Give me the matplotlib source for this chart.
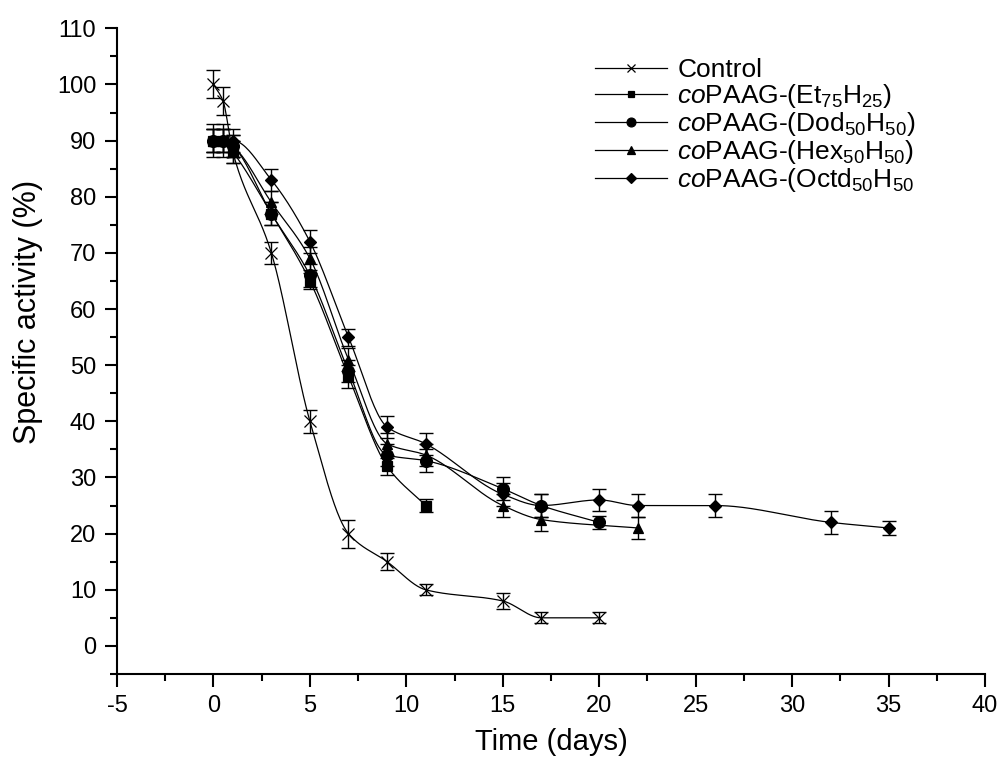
import numpy as np
import matplotlib
matplotlib.use("Agg")
import matplotlib.pyplot as plt
from matplotlib.ticker import MultipleLocator

plt.rcParams['font.family'] = ['Liberation Sans', 'DejaVu Sans']
plt.rcParams['mathtext.fontset'] = 'custom'
plt.rcParams['mathtext.rm'] = 'Liberation Sans'
plt.rcParams['mathtext.it'] = 'Liberation Sans:italic'
plt.rcParams['axes.unicode_minus'] = False

# ---- data ----
ctrl_x = [0, 0.5, 1, 3, 5, 7, 9, 11, 15, 17, 20]
ctrl_y = [100, 97, 88, 70, 40, 20, 15, 10, 8, 5, 5]
ctrl_e = [2.5, 2.5, 2, 2, 2, 2.5, 1.5, 1, 1.5, 1, 1]

et_x = [0, 0.5, 1, 3, 5, 7, 9, 11]
et_y = [90, 90, 88, 77, 65, 48, 32, 25]
et_e = [2, 2, 2, 2, 1.5, 2, 1.5, 1.2]

dod_x = [0, 0.5, 1, 3, 5, 7, 9, 11, 15, 17, 20]
dod_y = [90, 90, 89, 77, 66, 49, 34, 33, 28, 25, 22]
dod_e = [3, 3, 2, 2, 2, 2, 2, 2, 2, 2, 1.2]

hex_x = [0, 0.5, 1, 3, 5, 7, 9, 11, 15, 17, 22]
hex_y = [90, 90, 89, 79, 69, 51, 36, 34, 25, 22.5, 21]
hex_e = [2, 2, 2, 2, 2, 2, 2, 2, 2, 2, 2]

oct_x = [0, 0.5, 1, 3, 5, 7, 9, 11, 15, 17, 20, 22, 26, 32, 35]
oct_y = [90, 90, 90, 83, 72, 55, 39, 36, 27, 25, 26, 25, 25, 22, 21]
oct_e = [2, 2, 2, 2, 2, 1.5, 2, 2, 2, 2, 2, 2, 2, 2, 1.2]

labels = ["Control",
          r"$\it{co}$PAAG-(Et$_{75}$H$_{25}$)",
          r"$\it{co}$PAAG-(Dod$_{50}$H$_{50}$)",
          r"$\it{co}$PAAG-(Hex$_{50}$H$_{50}$)",
          r"$\it{co}$PAAG-(Octd$_{50}$H$_{50}$"]


def pchip(x, y, xs):
    x = np.asarray(x, float); y = np.asarray(y, float)
    h = np.diff(x); d = np.diff(y) / h
    n = len(x)
    m = np.zeros(n)
    for k in range(1, n - 1):
        if d[k - 1] * d[k] <= 0:
            m[k] = 0.0
        else:
            w1 = 2 * h[k] + h[k - 1]
            w2 = h[k] + 2 * h[k - 1]
            m[k] = (w1 + w2) / (w1 / d[k - 1] + w2 / d[k])
    m[0] = d[0]
    m[-1] = d[-1]
    idx = np.clip(np.searchsorted(x, xs) - 1, 0, n - 2)
    t = (xs - x[idx]) / h[idx]
    h00 = 2 * t**3 - 3 * t**2 + 1
    h10 = t**3 - 2 * t**2 + t
    h01 = -2 * t**3 + 3 * t**2
    h11 = t**3 - t**2
    return h00 * y[idx] + h10 * h[idx] * m[idx] + h01 * y[idx + 1] + h11 * h[idx] * m[idx + 1]


fig = plt.figure(figsize=(10.03, 7.65), dpi=100)
ax = fig.add_axes([0.1167, 0.119, 0.8653, 0.844])

series = [
    (ctrl_x, ctrl_y, ctrl_e, 'x', 8.5, 'none'),
    (et_x, et_y, et_e, 's', 6.5, 'black'),
    (dod_x, dod_y, dod_e, 'o', 8.5, 'black'),
    (hex_x, hex_y, hex_e, '^', 7, 'black'),
    (oct_x, oct_y, oct_e, 'D', 6.5, 'black'),
]

handles = []
for (xs, ys, es, mk, ms, fc), lab in zip(series, labels):
    xx = np.linspace(xs[0], xs[-1], 400)
    ax.plot(xx, pchip(xs, ys, xx), color='black', lw=0.9, zorder=2)
    ax.errorbar(xs, ys, yerr=es, fmt='none', ecolor='black', elinewidth=1.0,
                capsize=4.7, capthick=1.0, zorder=3)
    ax.plot(xs, ys, linestyle='none', marker=mk, ms=ms, color='black',
            mfc=fc, mew=0.9, zorder=4)
    h, = ax.plot([], [], color='black', lw=0.9, marker=mk, ms=ms * 0.75,
                 mfc=fc, mew=0.9)
    handles.append(h)

ax.set_xlim(-5, 40)
ax.set_ylim(-5, 110)
ax.xaxis.set_major_locator(MultipleLocator(5))
ax.xaxis.set_minor_locator(MultipleLocator(2.5))
ax.yaxis.set_minor_locator(MultipleLocator(5))
ax.set_yticks(np.arange(0, 111, 10))
for s in ['top', 'right']:
    ax.spines[s].set_visible(False)
for s in ['left', 'bottom']:
    ax.spines[s].set_linewidth(1.5)
ax.tick_params(which='major', direction='out', length=9, width=1.5,
               labelsize=17, pad=6)
ax.tick_params(which='minor', direction='out', length=5, width=1.5)

ax.set_xlabel("Time (days)", fontsize=21, labelpad=8)
ax.set_ylabel("Specific activity (%)", fontsize=22)
ax.yaxis.set_label_coords(-0.085, 0.56)

leg = ax.legend(handles, labels, loc='upper left', bbox_to_anchor=(0.533, 0.978),
                frameon=False, fontsize=19, handlelength=2.7, handletextpad=0.4,
                labelspacing=0.0, numpoints=1, borderaxespad=0.2)

fig.savefig("out.png", dpi=100)
